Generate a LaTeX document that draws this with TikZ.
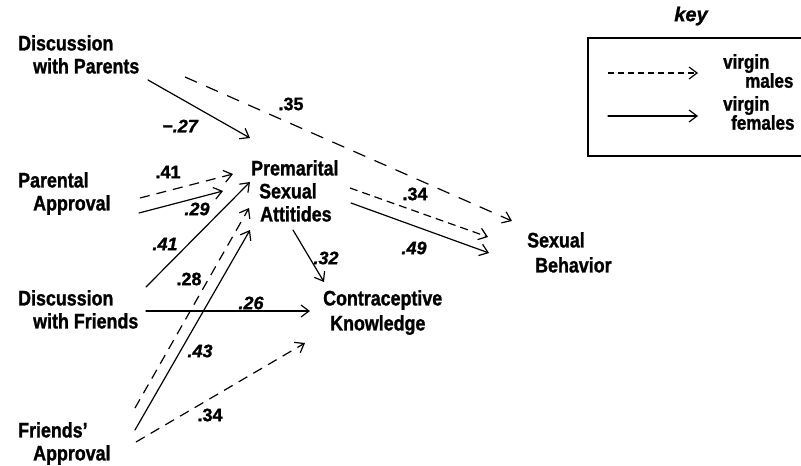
\documentclass[tikz,border=0pt]{standalone}
\usepackage{fontspec}
\setmainfont{Liberation Sans}[FakeStretch=0.85, BoldFeatures={FakeBold=1.2}]
\newfontfamily\labfont{Liberation Sans}[BoldFeatures={FakeBold=1.2}, BoldItalicFeatures={FakeBold=1.2}]
\usetikzlibrary{arrows.meta}
\begin{document}
\begin{tikzpicture}[x=1pt,y=-1pt,
  txt/.style={inner sep=0pt, anchor=north west, align=left, font=\fontsize{21}{23}\selectfont\bfseries},
  keytxt/.style={inner sep=0pt, anchor=north west, align=left, font=\fontsize{20}{19}\selectfont\bfseries},
  lab/.style={inner sep=0pt, font=\labfont\fontsize{18}{18}\selectfont\bfseries},
  ilab/.style={inner sep=0pt, font=\labfont\fontsize{18}{18}\selectfont\bfseries\itshape},
  conn/.style={line width=1.2pt, line cap=round, -{Straight Barb[length=8pt,width=12pt]}},
  longdash/.style={conn, line cap=butt, dash pattern=on 13pt off 10pt},
  middash/.style={conn, line cap=butt, dash pattern=on 10pt off 7pt},
  shortdash/.style={conn, line cap=butt, dash pattern=on 8pt off 5pt},
  keydash/.style={conn, line cap=butt, dash pattern=on 6pt off 4pt}]
\useasboundingbox (0,0) rectangle (801,466);
\fill[white] (0,0) rectangle (801,466);

% text nodes
\node[txt] (dwp) at (18,35) {Discussion\\\hspace*{15pt}with Parents};
\node[txt] (pa) at (18,172) {Parental\\\hspace*{15pt}Approval};
\node[txt] (psa) at (251,160) {Premarital\\\hspace*{8pt}Sexual\\\hspace*{9pt}Attitides};
\node[txt] (dwf) at (18,290) {Discussion\\\hspace*{15pt}with Friends};
\node[txt] (fa) at (18,422) {Friends'\\\hspace*{15pt}Approval};
\node[txt, font=\fontsize{21}{25}\selectfont\bfseries] (ck) at (323,290) {Contraceptive\\\hspace*{7pt}Knowledge};
\node[txt, font=\fontsize{21}{25}\selectfont\bfseries] (sb) at (527,232) {Sexual\\\hspace*{8pt}Behavior};

% endpoints
\coordinate (dwpA) at (148,80);   \coordinate (psaA) at (250,138);
\coordinate (dwpB) at (185,77);   \coordinate (sbA) at (512,221);
\coordinate (paA) at (140,198);   \coordinate (psaB) at (233,174);
\coordinate (paB) at (139,213);   \coordinate (psaC) at (223,191);
\coordinate (dwfA) at (146,287);  \coordinate (psaD) at (250,182);
\coordinate (faA) at (135,408);   \coordinate (psaE) at (249,208);
\coordinate (faB) at (135,430);   \coordinate (psaF) at (250,230);
\coordinate (dwfB) at (146,311);  \coordinate (ckA) at (310,311);
\coordinate (faC) at (136,442);   \coordinate (ckB) at (305,343);
\coordinate (psaG) at (293,230);  \coordinate (ckC) at (324,282);
\coordinate (psaH) at (350,188);  \coordinate (sbB) at (488,237);
\coordinate (psaI) at (351,203);  \coordinate (sbC) at (489,253);

% connectors
\draw[conn] (dwpA) -- (psaA);
\draw[longdash] (dwpB) -- (sbA);
\draw[middash] (paA) -- (psaB);
\draw[conn] (paB) -- (psaC);
\draw[conn] (dwfA) -- (psaD);
\draw[middash] (faA) -- (psaE);
\draw[conn] (faB) -- (psaF);
\draw[conn] (dwfB) -- (ckA);
\draw[middash] (faC) -- (ckB);
\draw[conn] (psaG) -- (ckC);
\draw[shortdash] (psaH) -- (sbB);
\draw[conn] (psaI) -- (sbC);

% coefficient labels
\node[ilab] (l1) at (180,126) {−.27};
\node[lab] (l2) at (291,104) {.35};
\node[lab] (l3) at (168,172) {.41};
\node[ilab] (l4) at (197,209) {.29};
\node[ilab] (l5) at (165,244) {.41};
\node[lab] (l6) at (189,279) {.28};
\node[ilab] (l7) at (251,303) {.26};
\node[ilab] (l8) at (200,351) {.43};
\node[lab] (l9) at (210,415) {.34};
\node[ilab] (l10) at (326,258) {.32};
\node[lab] (l11) at (415,194) {.34};
\node[ilab] (l12) at (414,248) {.49};

% key
\node[inner sep=0pt, font=\labfont\fontsize{20}{20}\selectfont\bfseries\itshape] (keyt) at (691,16) {key};
\draw[line width=1.3pt] (801,38) -- (588,38) -- (588,156) -- (801,156);
\coordinate (kA) at (608,73);  \coordinate (kB) at (698,73);
\coordinate (kC) at (608,116); \coordinate (kD) at (698,116);
\draw[keydash] (kA) -- (kB);
\draw[conn] (kC) -- (kD);
\node[keytxt] (km) at (723,54) {virgin\\\hspace*{22pt}males};
\node[keytxt] (kf) at (723,96) {virgin\\\hspace*{8pt}females};
\end{tikzpicture}
\end{document}
